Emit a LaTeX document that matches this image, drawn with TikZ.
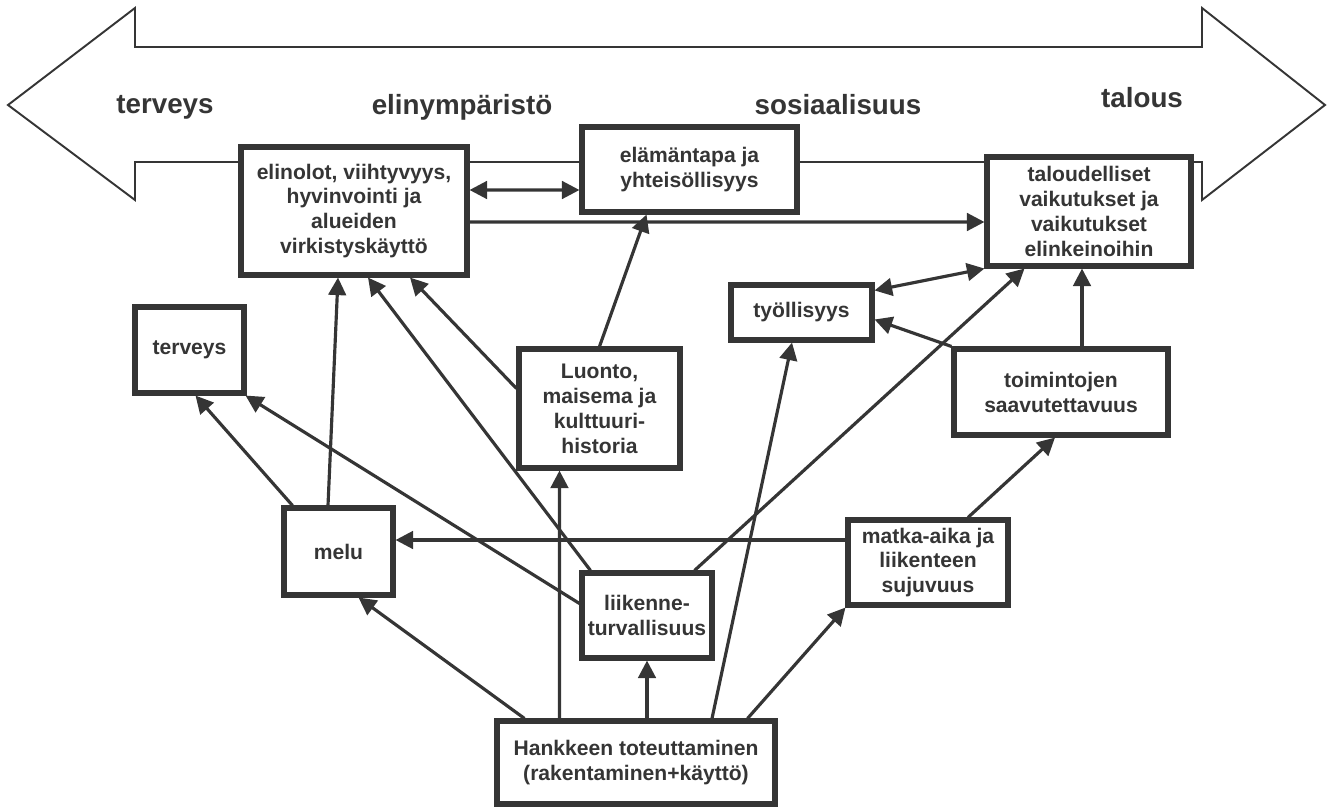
\documentclass[tikz,border=0pt]{standalone}
\usepackage{fontspec}
\setmainfont{Liberation Sans}
\usetikzlibrary{positioning,arrows.meta,calc}
\definecolor{ink}{HTML}{353535}
\tikzset{
  bigarr/.style={line width=1.1pt,draw=ink,fill=white,line join=miter},
  box/.style={draw=ink,fill=white,line width=2.9pt,inner sep=0pt,align=center,text=ink,
    font=\bfseries\fontsize{12}{14.2}\selectfont},
  cat/.style={anchor=base,text=ink,font=\bfseries\fontsize{15.8}{18}\selectfont},
  conn/.style={-{Triangle[length=10pt,width=10pt]},line width=1.8pt,draw=ink},
  dconn/.style={{Triangle[length=10pt,width=10pt]}-{Triangle[length=10pt,width=10pt]},line width=1.8pt,draw=ink},
}
\begin{document}
\begin{tikzpicture}[x=0.02cm,y=-0.02cm]
  \useasboundingbox (0,0) rectangle (1327,807);
  % two-headed band with the four themes
  \draw[bigarr] (8,105) -- (135,8) -- (135,47) -- (1202,47) -- (1202,8) -- (1325,105)
    -- (1202,200) -- (1202,162) -- (135,162) -- (135,200) -- cycle;
  \node[cat] (tTerv) at (165,114) {terveys};
  \node[cat] (tElin) at (462,115) {elinympäristö};
  \node[cat] (tSos)  at (838,115) {sosiaalisuus};
  \node[cat] (tTal)  at (1142,108) {talous};

  \node[box,minimum width=4.52cm,minimum height=2.56cm] (elin) at (354,211)
    {elinolot, viihtyvyys,\\hyvinvointi ja\\alueiden\\virkistyskäyttö};
  \node[box,minimum width=4.30cm,minimum height=1.70cm] (elam) at (689.5,169.5)
    {elämäntapa ja\\yhteisöllisyys};
  \node[box,minimum width=4.08cm,minimum height=2.18cm] (talo) at (1089,211.5)
    {taloudelliset\\vaikutukset ja\\vaikutukset\\elinkeinoihin};
  \node[box,minimum width=2.18cm,minimum height=1.72cm] (terv) at (189.5,350) {terveys};
  \node[box,minimum width=2.18cm,minimum height=1.74cm] (melu) at (338.5,551.5) {melu};
  \node[box,minimum width=3.22cm,minimum height=2.38cm] (luonto) at (599.5,408.5)
    {Luonto,\\maisema ja\\kulttuuri-\\historia};
  \node[box,minimum width=2.82cm,minimum height=1.10cm] (tyol) at (801.5,312.5) {työllisyys};
  \node[box,minimum width=4.28cm,minimum height=1.72cm] (toim) at (1061,392)
    {toimintojen\\saavutettavuus};
  \node[box,minimum width=3.20cm,minimum height=1.70cm] (matka) at (928,562.5)
    {matka-aika ja\\liikenteen\\sujuvuus};
  \node[box,minimum width=2.60cm,minimum height=1.70cm] (liik) at (647,615.5)
    {liikenne-\\turvallisuus};
  \node[box,minimum width=5.56cm,minimum height=1.66cm] (hank) at (636,762.5)
    {Hankkeen toteuttaminen\\(rakentaminen+käyttö)};

  % effects
  \draw[dconn] ($(elin.east)+(0,-21)$) -- ($(elam.west)+(0,20.5)$);
  \draw[conn] ($(elin.east)+(0,11)$) -- ($(talo.west)+(0,10.5)$);
  \draw[conn] (luonto.north) -- ($(elam.south)+(-43,0)$);
  \draw[conn] ($(melu.north)+(-10.5,0)$) -- ($(elin.south)+(-16,0)$);
  \draw[conn] ($(luonto.west)+(0,-20)$) -- ($(elin.south)+(56,0)$);
  \draw[conn] ($(liik.north west)+(11,0)$) -- ($(elin.south)+(14,0)$);
  \draw[conn] ($(melu.north west)+(11,0)$) -- ($(terv.south)+(6,0)$);
  \draw[conn] ($(liik.west)+(0,-12)$) -- ($(terv.south east)+(-1,0)$);
  \draw[conn] ($(matka.west)+(0,-22.5)$) -- ($(melu.east)+(0,-11.5)$);
  \draw[conn] ($(hank.north west)+(30,0)$) -- ($(melu.south)+(20,0)$);
  \draw[conn] ($(hank.north west)+(65,0)$) -- ($(luonto.south west)+(43,0)$);
  \draw[conn] (hank.north -| liik.south) -- (liik.south);
  \draw[conn] ($(hank.north)+(76,0)$) -- ($(tyol.south)+(-9.5,0)$);
  \draw[conn] ($(hank.north east)+(-30,0)$) -- (matka.south west);
  \draw[conn] ($(liik.north east)+(-20,0)$) -- ($(talo.south west)+(40,0)$);
  \draw[dconn] ($(tyol.north east)+(0,8)$) -- (talo.south west);
  \draw[conn] (toim.north west) -- ($(tyol.east)+(0,7)$);
  \draw[conn] ($(toim.north)+(21,0)$) -- ($(talo.south)+(-7,0)$);
  \draw[conn] ($(matka.north)+(40,0)$) -- ($(toim.south)+(-6,0)$);
\end{tikzpicture}
\end{document}
